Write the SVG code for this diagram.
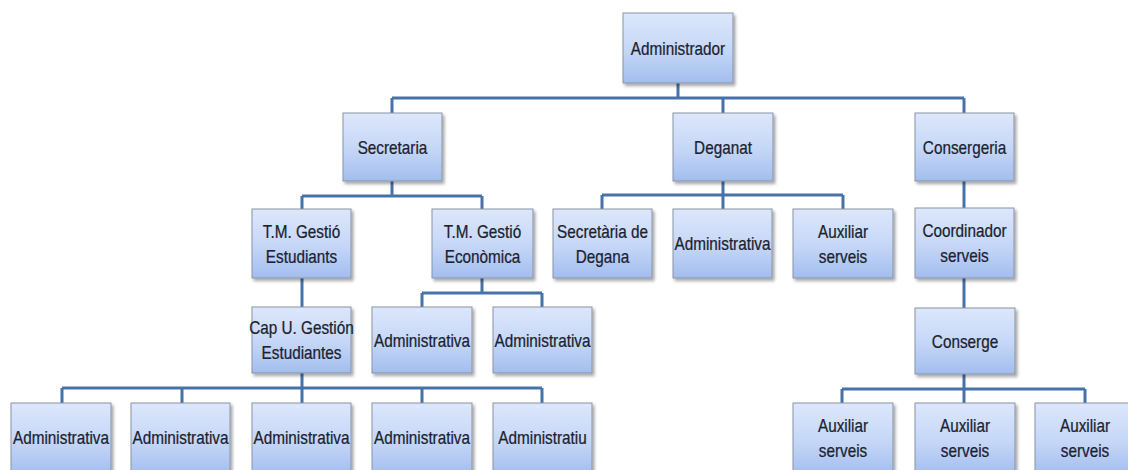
<svg xmlns="http://www.w3.org/2000/svg" width="1128" height="470" viewBox="0 0 1128 470">
<defs>
<linearGradient id="g" x1="0" y1="0" x2="0" y2="1">
<stop offset="0" stop-color="#dde7fb"/>
<stop offset="0.55" stop-color="#c4d6f7"/>
<stop offset="1" stop-color="#a2bdee"/>
</linearGradient>
<filter id="sh" x="-10%" y="-10%" width="130%" height="130%">
<feDropShadow dx="2" dy="2.5" stdDeviation="1.5" flood-color="#000" flood-opacity="0.35"/>
</filter>
<style>
.b{fill:url(#g);stroke:#8793a6;stroke-width:1;filter:url(#sh)}
.t{font-family:"Liberation Sans",Arial,sans-serif;font-size:18px;fill:#1a2230;text-anchor:middle;stroke:#1a2230;stroke-width:0.25}
.c{fill:none;stroke:#4672a9;stroke-width:3;stroke-linejoin:miter}
</style>
</defs>
<rect width="1128" height="470" fill="#ffffff"/>
<g id="connectors">
<path class="c" d="M678 83V98M392 98H964M392 98V113M723 98V113M964 98V113"/>
<path class="c" d="M392 181V196M302 196H482M302 196V209M482 196V209"/>
<path class="c" d="M723 181V195M602 195H843M602 195V209M723 195V209M843 195V209"/>
<path class="c" d="M964 181V208M964 278V308"/>
<path class="c" d="M964 374V389M842 389H1085M842 389V403M964 389V403M1085 389V403"/>
<path class="c" d="M302 278V307"/>
<path class="c" d="M482 278V293M422 293H542M422 293V307M542 293V307"/>
<path class="c" d="M302 373V388M62 388H542M62 388V403M182 388V403M302 388V403M422 388V403M542 388V403"/>
</g>
<g id="n-administrador"><rect class="b" x="623" y="13" width="110" height="70"/><text class="t" transform="translate(678 54.5) scale(0.85 1)">Administrador</text></g>
<g id="n-secretaria"><rect class="b" x="343" y="113" width="99" height="68"/><text class="t" transform="translate(392.5 153.5) scale(0.85 1)">Secretaria</text></g>
<g id="n-deganat"><rect class="b" x="673" y="113" width="100" height="68"/><text class="t" transform="translate(723 153.5) scale(0.85 1)">Deganat</text></g>
<g id="n-consergeria"><rect class="b" x="915" y="113" width="99" height="68"/><text class="t" transform="translate(964.5 153.5) scale(0.85 1)">Consergeria</text></g>
<g id="n-tm-estudiants"><rect class="b" x="252" y="209" width="99" height="69"/><text class="t" transform="translate(301.5 238) scale(0.85 1)"><tspan x="0" y="0">T.M. Gestió</tspan><tspan x="0" y="25">Estudiants</tspan></text></g>
<g id="n-tm-economica"><rect class="b" x="432" y="209" width="101" height="69"/><text class="t" transform="translate(482.5 238) scale(0.85 1)"><tspan x="0" y="0">T.M. Gestió</tspan><tspan x="0" y="25">Econòmica</tspan></text></g>
<g id="n-sec-degana"><rect class="b" x="553" y="209" width="99" height="69"/><text class="t" transform="translate(602.5 238) scale(0.85 1)"><tspan x="0" y="0">Secretària de</tspan><tspan x="0" y="25">Degana</tspan></text></g>
<g id="n-deg-admin"><rect class="b" x="673" y="209" width="99" height="69"/><text class="t" transform="translate(722.5 250) scale(0.85 1)">Administrativa</text></g>
<g id="n-deg-aux"><rect class="b" x="793" y="209" width="100" height="69"/><text class="t" transform="translate(843 238) scale(0.85 1)"><tspan x="0" y="0">Auxiliar</tspan><tspan x="0" y="25">serveis</tspan></text></g>
<g id="n-coordinador"><rect class="b" x="915" y="208" width="99" height="70"/><text class="t" transform="translate(964.5 237) scale(0.85 1)"><tspan x="0" y="0">Coordinador</tspan><tspan x="0" y="25">serveis</tspan></text></g>
<g id="n-cap"><rect class="b" x="252" y="307" width="99" height="66"/><text class="t" transform="translate(301.5 334) scale(0.85 1)"><tspan x="0" y="0">Cap U. Gestión</tspan><tspan x="0" y="25">Estudiantes</tspan></text></g>
<g id="n-eco-admin1"><rect class="b" x="372" y="307" width="100" height="66"/><text class="t" transform="translate(422 346.5) scale(0.85 1)">Administrativa</text></g>
<g id="n-eco-admin2"><rect class="b" x="493" y="307" width="99" height="66"/><text class="t" transform="translate(542.5 346.5) scale(0.85 1)">Administrativa</text></g>
<g id="n-conserge"><rect class="b" x="915" y="308" width="100" height="66"/><text class="t" transform="translate(965 347.5) scale(0.85 1)">Conserge</text></g>
<g id="n-est-admin1"><rect class="b" x="11" y="403" width="100" height="72"/><text class="t" transform="translate(61 443.5) scale(0.85 1)">Administrativa</text></g>
<g id="n-est-admin2"><rect class="b" x="131" y="403" width="99" height="72"/><text class="t" transform="translate(180.5 443.5) scale(0.85 1)">Administrativa</text></g>
<g id="n-est-admin3"><rect class="b" x="252" y="403" width="99" height="72"/><text class="t" transform="translate(301.5 443.5) scale(0.85 1)">Administrativa</text></g>
<g id="n-est-admin4"><rect class="b" x="372" y="403" width="100" height="72"/><text class="t" transform="translate(422 443.5) scale(0.85 1)">Administrativa</text></g>
<g id="n-est-admin5"><rect class="b" x="493" y="403" width="99" height="72"/><text class="t" transform="translate(542.5 443.5) scale(0.85 1)">Administratiu</text></g>
<g id="n-aux1"><rect class="b" x="793" y="403" width="100" height="72"/><text class="t" transform="translate(843 432) scale(0.85 1)"><tspan x="0" y="0">Auxiliar</tspan><tspan x="0" y="25">serveis</tspan></text></g>
<g id="n-aux2"><rect class="b" x="915" y="403" width="100" height="72"/><text class="t" transform="translate(965 432) scale(0.85 1)"><tspan x="0" y="0">Auxiliar</tspan><tspan x="0" y="25">serveis</tspan></text></g>
<g id="n-aux3"><rect class="b" x="1035" y="403" width="100" height="72"/><text class="t" transform="translate(1085 432) scale(0.85 1)"><tspan x="0" y="0">Auxiliar</tspan><tspan x="0" y="25">serveis</tspan></text></g>
</svg>
